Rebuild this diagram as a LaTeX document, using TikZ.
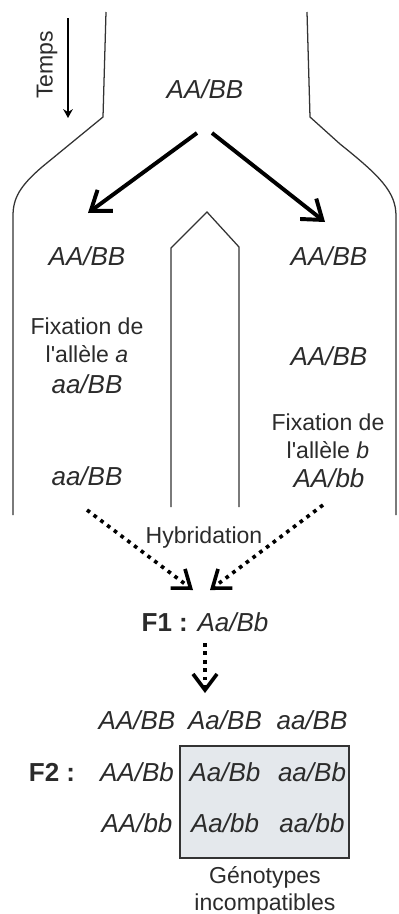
\documentclass[tikz,border=0pt]{standalone}
\usepackage{fontspec}
\setmainfont{Liberation Sans}
\usepackage{tikz}
\usetikzlibrary{arrows.meta}
\definecolor{gristxt}{HTML}{2B2B2B}
\definecolor{boxgris}{HTML}{E4E8EC}
\tikzset{
  geno/.style={font=\fontsize{18.5}{21}\selectfont\itshape, text=gristxt, anchor=base, inner sep=0pt},
  txt/.style={font=\fontsize{16.4}{19.9}\selectfont, text=gristxt, anchor=base, align=center, inner sep=0pt},
  bord/.style={line width=0.9pt, black!80},
  fleche/.style={line width=2.8pt, -{Straight Barb[length=4.5mm,width=6.5mm]}},
  pointille/.style={line width=2.6pt, dash pattern=on 2.6pt off 3.4pt, -{Straight Barb[length=4mm,width=6mm]}},
}

\begin{document}
\begin{tikzpicture}[x=0.025cm,y=-0.025cm]
\useasboundingbox (0,0) rectangle (399,914);
% contours des populations
\draw [bord] (106,12) -- (103,117) -- (42,167) .. controls (20,186) and (13,198) .. (13,216) -- (13,515);
\draw [bord] (307,12) -- (310,117) -- (340,144) .. controls (380,176) and (396,192) .. (396,216) -- (396,515);
\draw [bord] (171,507) -- (171,248) -- (207,212) -- (239,247) -- (239,507);
% temps
\node[txt, rotate=90, anchor=center] (temps) at (47,65) {Temps};
\coordinate (t1) at (68,18);
\coordinate (t2) at (68,118);
\draw [line width=0.9pt, -{Stealth[length=2.2mm,width=2.4mm]}] (t1) -- (t2);
% population ancestrale
\node[geno] (p0) at (205,98) {AA/BB};
\coordinate (sg1) at (197,133);
\coordinate (sg2) at (88,213);
\coordinate (sd1) at (212,133);
\coordinate (sd2) at (325,222);
\draw [fleche] (sg1) -- (sg2);
\draw [fleche] (sd1) -- (sd2);
% branche gauche
\node[geno] (g1) at (87,265) {AA/BB};
\node[txt] (fa) at (87,362) {Fixation de\\l\textquotesingle allèle \textit{a}};
\node[geno] (g2) at (87,393) {aa/BB};
\node[geno] (g3) at (87,485) {aa/BB};
% branche droite
\node[geno] (d1) at (329,265) {AA/BB};
\node[geno] (d2) at (329,365) {AA/BB};
\node[txt] (fb) at (328,458) {Fixation de\\l\textquotesingle allèle \textit{b}};
\node[geno] (d3) at (329,487) {AA/bb};
% hybridation
\node[txt] (hyb) at (204,543) {Hybridation};
\coordinate (hg1) at (87,510);
\coordinate (hg2) at (193,590);
\coordinate (hd1) at (323,505);
\coordinate (hd2) at (210,590);
\draw [pointille] (hg1) -- (hg2);
\draw [pointille] (hd1) -- (hd2);
\node[geno, font=\fontsize{18.5}{21}\selectfont] (f1) at (205,631) {\textbf{F1 :} \textit{Aa/Bb}};
\coordinate (fb1) at (205,643);
\coordinate (fb2) at (205,693);
\draw [pointille] (fb1) -- (fb2);
% F2
\draw [line width=1pt, black!80, fill=boxgris] (180,746) rectangle (349,858);
\node[geno, font=\fontsize{18.5}{21}\selectfont\bfseries] (f2) at (52,781) {F2 :};
\node[geno] (AABB) at (137,729) {AA/BB};
\node[geno] (AaBB) at (225,729) {Aa/BB};
\node[geno] (aaBB) at (312,729) {aa/BB};
\node[geno] (AABb) at (137,781) {AA/Bb};
\node[geno] (AaBb) at (225,781) {Aa/Bb};
\node[geno] (aaBb) at (312,781) {aa/Bb};
\node[geno] (AAbb) at (137,832) {AA/bb};
\node[geno] (Aabb) at (225,832) {Aa/bb};
\node[geno] (aabb) at (312,832) {aa/bb};
\node[txt, font=\fontsize{16.4}{18.5}\selectfont] (incomp) at (265,910) {Génotypes\\incompatibles};
\end{tikzpicture}
\end{document}
